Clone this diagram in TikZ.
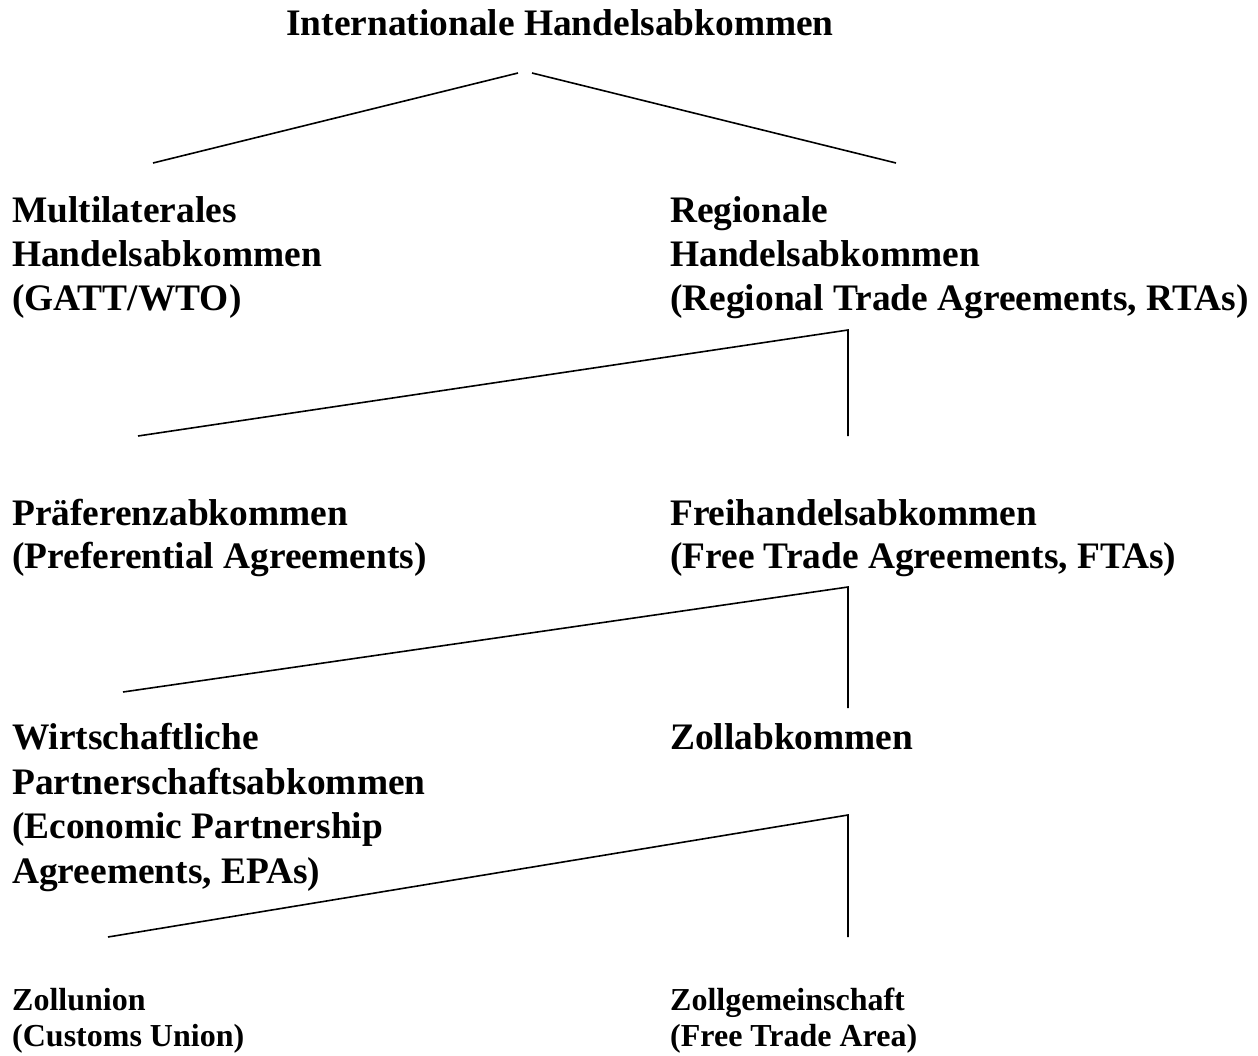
\documentclass[tikz,border=0pt]{standalone}
\usepackage{fontspec}
\setmainfont{Liberation Serif}
\tikzset{
  big/.style={anchor=base west, inner sep=0pt, font=\fontsize{37.4}{44}\selectfont\bfseries},
  small/.style={anchor=base west, inner sep=0pt, font=\fontsize{32}{38}\selectfont\bfseries},
  conn/.style={line width=1.6pt, line cap=butt}
}
\begin{document}
\begin{tikzpicture}[x=1pt,y=-1pt]
\useasboundingbox (0,0) rectangle (1258,1055);
% texts
\node[big] (title) at (286,35) {Internationale Handelsabkommen};
\node[big] (ml1) at (12,222) {Multilaterales};
\node[big] (ml2) at (12,266) {Handelsabkommen};
\node[big] (ml3) at (12,310) {(GATT/WTO)};
\node[big] (rg1) at (670,222) {Regionale};
\node[big] (rg2) at (670,266) {Handelsabkommen};
\node[big] (rg3) at (670,310) {(Regional Trade Agreements, RTAs)};
\node[big] (pr1) at (12,525) {Präferenzabkommen};
\node[big] (pr2) at (12,568) {(Preferential Agreements)};
\node[big] (fh1) at (670,525) {Freihandelsabkommen};
\node[big] (fh2) at (670,568) {(Free Trade Agreements, FTAs)};
\node[big] (wp1) at (12,749) {Wirtschaftliche};
\node[big] (wp2) at (12,794) {Partnerschaftsabkommen};
\node[big] (wp3) at (12,838) {(Economic Partnership};
\node[big] (wp4) at (12,883) {Agreements, EPAs)};
\node[big] (za1) at (670,749) {Zollabkommen};
\node[small] (zu1) at (12,1010) {Zollunion};
\node[small] (zu2) at (12,1046) {(Customs Union)};
\node[small] (zg1) at (670,1010) {Zollgemeinschaft};
\node[small] (zg2) at (670,1046) {(Free Trade Area)};
% connector points
\coordinate (t1) at (518,73);
\coordinate (t2) at (532,73);
\coordinate (m) at (153,163);
\coordinate (r) at (896,163);
\coordinate (a) at (848,330);
\coordinate (p) at (138,436);
\coordinate (f) at (848,436);
\coordinate (b) at (848,587);
\coordinate (w) at (123,692);
\coordinate (z) at (848,708);
\coordinate (c) at (848,815);
\coordinate (u) at (108,937);
\coordinate (g) at (848,937);
\draw[conn] (t1) -- (m);
\draw[conn] (t2) -- (r);
\draw[conn] (p) -- (a) -- (f);
\draw[conn] (w) -- (b) -- (z);
\draw[conn] (u) -- (c) -- (g);
\end{tikzpicture}
\end{document}
